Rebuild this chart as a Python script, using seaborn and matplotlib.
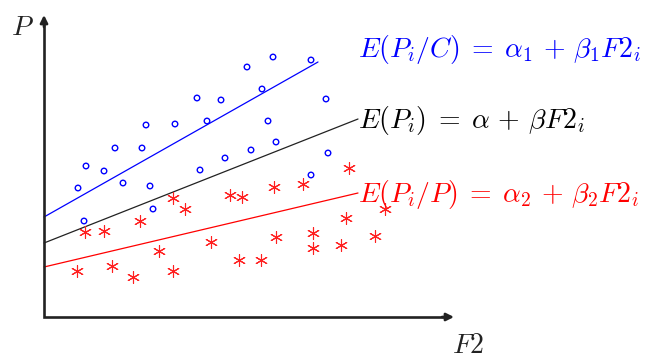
import matplotlib
matplotlib.use("Agg")
import matplotlib.pyplot as plt
import numpy as np
import pandas as pd
import seaborn as sns

# observations, class C (circles)
c_x = [34, 42, 60, 71, 79, 98, 102, 106, 109, 131, 153, 156, 163, 177, 181,
       203, 207, 218, 224, 229, 232, 267, 267, 282, 284, 40]
c_y = [129, 151, 146, 169, 134, 169, 192, 131, 108, 193, 219, 147, 196, 217, 159,
       250, 167, 228, 196, 260, 175, 257, 142, 218, 164, 96]

# observations, class P (stars)
p_x = [41, 60, 96, 129, 141, 186, 198, 230, 259, 305, 302, 341, 167, 232, 269,
       269, 297, 331, 115, 33, 68, 89, 129, 195, 217]
p_y = [85, 86, 96, 119, 108, 122, 120, 130, 133, 149, 99, 108, 75, 80, 84,
       69, 72, 81, 66, 46, 51, 40, 46, 57, 57]

# regression lines (end points)
line_c_x, line_c_y = [0, 274], [100, 255]
line_all_x, line_all_y = [0, 314], [74, 198]
line_p_x, line_p_y = [0, 314], [50, 124]

sns.set_theme(style="white")
plt.rcParams["mathtext.fontset"] = "cm"

fig = plt.figure(figsize=(6.52, 3.55), dpi=100)
ax = fig.add_axes([0, 0, 1, 1])
ax.set_xlim(-44, 608)
ax.set_ylim(-38, 317)
ax.set_axis_off()

df_c = pd.DataFrame({"x": c_x, "y": c_y})
df_p = pd.DataFrame({"x": p_x, "y": p_y})

sns.lineplot(x=line_c_x, y=line_c_y, color="blue", lw=0.9, ax=ax)
sns.lineplot(x=line_all_x, y=line_all_y, color="#222222", lw=0.9, ax=ax)
sns.lineplot(x=line_p_x, y=line_p_y, color="red", lw=0.9, ax=ax)

sns.scatterplot(data=df_c, x="x", y="y", marker="o", s=16, facecolor="none",
                edgecolor="blue", linewidth=1.0, ax=ax, zorder=3)
sns.scatterplot(data=df_p, x="x", y="y", marker=(6, 2, 0), s=75, color="#ff2020",
                linewidth=0.8, ax=ax, zorder=3)

# axes with arrows
ax.plot([0, 0, 404], [296, 0, 0], color="#222222", lw=1.9,
        solid_joinstyle="miter", solid_capstyle="butt")
ax.annotate("", xy=(0, 302), xytext=(0, 290),
            arrowprops=dict(arrowstyle="-|>", color="#222222", lw=1.9,
                            mutation_scale=11, shrinkA=0, shrinkB=0))
ax.annotate("", xy=(410, 0), xytext=(398, 0),
            arrowprops=dict(arrowstyle="-|>", color="#222222", lw=1.9,
                            mutation_scale=11, shrinkA=0, shrinkB=0))

ax.text(-22, 282, "$P$", fontsize=20, ha="center", va="baseline", color="#222222")
ax.text(424, -36, "$F2$", fontsize=20, ha="center", va="baseline", color="#222222")

ax.text(314, 260, r"$E(P_i/C)\;=\;\alpha_1\,+\,\beta_1 F2_i$", fontsize=20,
        color="blue", ha="left", va="baseline")
ax.text(314, 189, r"$E(P_i)\;=\;\alpha\,+\,\beta F2_i$", fontsize=20,
        color="black", ha="left", va="baseline")
ax.text(314, 115, r"$E(P_i/P)\;=\;\alpha_2\,+\,\beta_2 F2_i$", fontsize=20,
        color="red", ha="left", va="baseline")

fig.savefig("out.png", dpi=100)
